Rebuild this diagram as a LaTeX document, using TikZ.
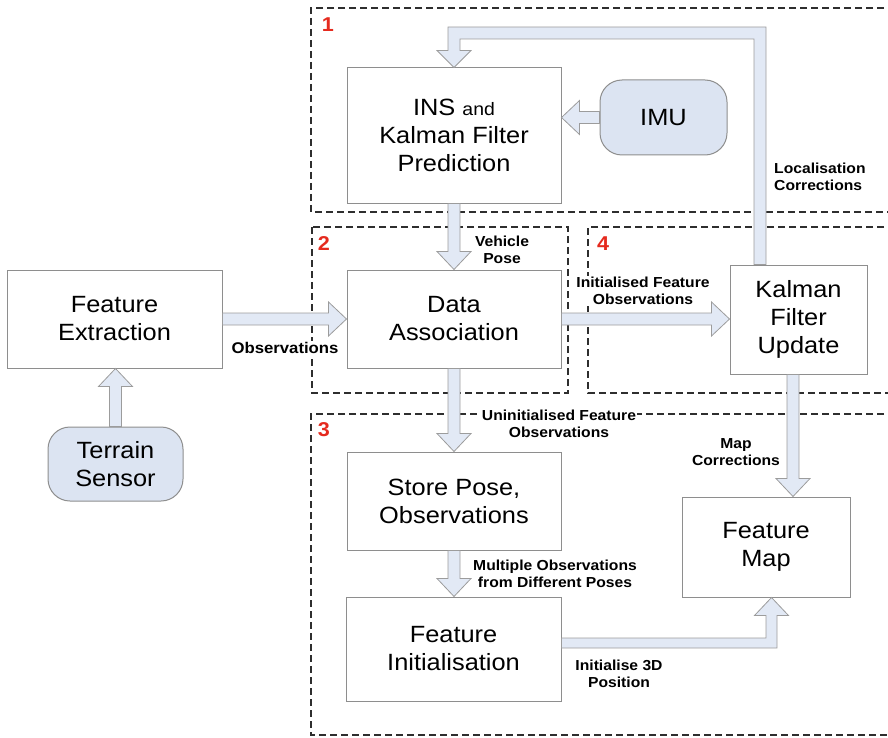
\documentclass[tikz,border=0pt]{standalone}
\usepackage{fontspec}
\setmainfont{Liberation Sans}[FakeStretch=1.08]
\usetikzlibrary{calc}
\definecolor{arrfill}{HTML}{E2E9F5}
\definecolor{arrline}{HTML}{9C9C9C}
\definecolor{boxline}{HTML}{8E8E8E}
\definecolor{roundfill}{HTML}{DCE4F2}
\definecolor{numred}{HTML}{E52A1E}
\definecolor{dashcol}{HTML}{2E2E2E}
\newcommand{\barrow}[2]{%
  \coordinate (bac) at ($(#2)!18pt!(#1)$);
  \filldraw[blockarrow] ($(#1)!6pt!90:(#2)$) -- ($(bac)!6pt!90:(#2)$) -- ($(bac)!17pt!90:(#2)$) -- (#2) -- ($(bac)!17pt!-90:(#2)$) -- ($(bac)!6pt!-90:(#2)$) -- ($(#1)!6pt!-90:(#2)$) -- cycle;}
\begin{document}
\begin{tikzpicture}[x=1pt,y=-1pt,
 box/.style={draw=boxline, line width=1pt, fill=white, align=center, inner sep=0pt, font=\fontsize{23.5}{28}\selectfont},
 rbox/.style={box, fill=roundfill, rounded corners=22pt},
 lab/.style={font=\bfseries\fontsize{14.5}{16.5}\selectfont, align=center, inner sep=1pt, fill=white},
 num/.style={font=\bfseries\fontsize{20}{20}\selectfont, text=numred, inner sep=0pt},
 region/.style={draw=dashcol, line width=1.1pt, dash pattern=on 7pt off 4pt},
 blockarrow/.style={fill=arrfill, draw=arrline, line width=0.8pt, line join=miter}]
\useasboundingbox (0,0) rectangle (888,738);
\clip (0,0) rectangle (888,738);

% regions
\draw[region] (895,8) -- (311,8) -- (311,212) -- (895,212);
\draw[region] (312,227) rectangle (568,393);
\draw[region] (895,227) -- (588,227) -- (588,393) -- (895,393);
\draw[region] (895,414) -- (311,414) -- (311,735) -- (895,735);

% nodes
\node[box, minimum width=215pt, minimum height=98pt] (fe) at (114.5,319) {Feature\\Extraction};
\node[rbox, minimum width=135pt, minimum height=74pt] (ts) at (115.5,464) {Terrain\\Sensor};
\node[box, minimum width=214pt, minimum height=135pt] (ins) at (454,135.5) {INS {\fontsize{18}{28}\selectfont and}\\Kalman Filter\\Prediction};
\node[rbox, minimum width=127pt, minimum height=75pt] (imu) at (663.5,117.5) {IMU};
\node[box, minimum width=214pt, minimum height=98pt] (da) at (454,319) {Data\\Association};
\node[box, minimum width=137pt, minimum height=109pt] (kf) at (798.5,319.5) {Kalman\\Filter\\Update};
\node[box, minimum width=214pt, minimum height=98pt] (sp) at (454,501) {Store Pose,\\Observations};
\node[box, minimum width=215pt, minimum height=104pt] (fi) at (453.5,649) {Feature\\Initialisation};
\node[box, minimum width=168pt, minimum height=100pt] (fm) at (766,547) {Feature\\Map};

% straight block arrows
\coordinate (a1) at (ts.north); \coordinate (a2) at (a1 |- fe.south);
\barrow{a1}{a2}
\coordinate (o1) at (fe.east); \coordinate (o2) at (o1 -| da.west);
\barrow{o1}{o2}
\coordinate (b1) at (imu.west); \coordinate (b2) at (b1 -| ins.east);
\barrow{b1}{b2}
\coordinate (v1) at (ins.south); \coordinate (v2) at (v1 |- da.north);
\barrow{v1}{v2}
\coordinate (c1) at (da.east); \coordinate (c2) at (c1 -| kf.west);
\barrow{c1}{c2}
\coordinate (d1) at (da.south); \coordinate (d2) at (d1 |- sp.north);
\barrow{d1}{d2}
\coordinate (e1) at (sp.south); \coordinate (e2) at (e1 |- fi.north);
\barrow{e1}{e2}
\coordinate (k1) at ($(kf.south)+(-5.5,0)$); \coordinate (k2) at (k1 |- fm.north);
\barrow{k1}{k2}

% bent: Kalman update -> INS
\coordinate (t0) at ($(kf.north)+(-38.5,0)$);
\coordinate (t1) at (t0 |- 0,33);
\coordinate (t3) at (ins.north);
\coordinate (t2) at (t3 |- t1);
\filldraw[blockarrow] ($(t0)+(6,0)$) -- ($(t1)+(6,-6)$) -- ($(t2)+(-6,-6)$) -- ($(t3)+(-6,-17)$) -- ($(t3)+(-17,-17)$) -- (t3) -- ($(t3)+(17,-17)$) -- ($(t3)+(6,-17)$) -- ($(t2)+(6,6)$) -- ($(t1)+(-6,6)$) -- ($(t0)+(-6,0)$) -- cycle;

% bent: Feature initialisation -> Feature map
\coordinate (u0) at ($(fi.east)+(0,-6)$);
\coordinate (u2) at ($(fm.south)+(5.5,0)$);
\coordinate (u1) at (u0 -| u2);
\filldraw[blockarrow] ($(u0)+(0,-5)$) -- ($(u1)+(-5.5,-5)$) -- ($(u2)+(-5.5,18)$) -- ($(u2)+(-17,18)$) -- (u2) -- ($(u2)+(17,18)$) -- ($(u2)+(5.5,18)$) -- ($(u1)+(5.5,5)$) -- ($(u0)+(0,5)$) -- cycle;

% labels
\node[lab, font=\bfseries\fontsize{15.5}{17}\selectfont] (lobs) at (285,348) {Observations};
\node[lab] (lvp) at (502,250) {Vehicle\\Pose};
\node[lab] (lifo) at (643,291) {Initialised Feature\\Observations};
\node[lab, align=left, anchor=west] (lloc) at (773,177) {Localisation\\Corrections};
\node[lab] (lmap) at (736,452) {Map\\Corrections};
\node[lab] (lun) at (559,424) {Uninitialised Feature\\Observations};
\node[lab] (lmo) at (555,574) {Multiple Observations\\from Different Poses};
\node[lab] (li3) at (619,674) {Initialise 3D\\Position};

% region numbers
\node[num] (n1) at (328,25) {1};
\node[num] (n2) at (324,244) {2};
\node[num] (n3) at (324,430) {3};
\node[num] (n4) at (603,244) {4};
\end{tikzpicture}
\end{document}
